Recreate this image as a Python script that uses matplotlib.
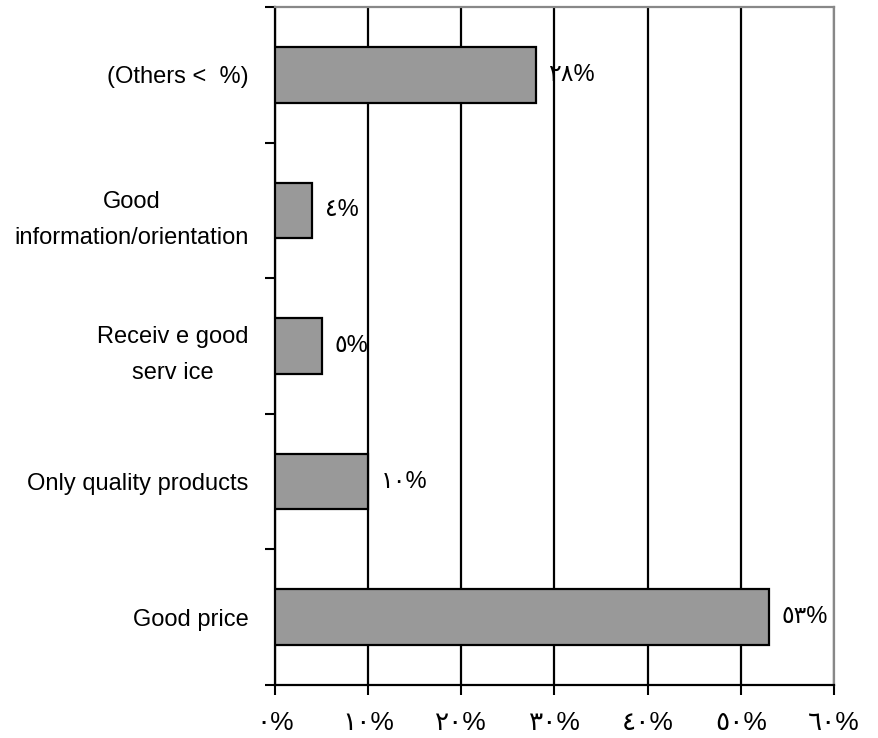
import matplotlib
matplotlib.use("Agg")
import matplotlib.pyplot as plt

categories = ["Good price", "Only quality products", "Receiv e good\nserv ice",
              "Good\ninformation/orientation", "(Others <  %)"]
values = [53, 10, 5, 4, 28]
value_labels = ["٥٣%", "١٠%", "٥%", "٤%", "٢٨%"]
xticks = [0, 10, 20, 30, 40, 50, 60]
xtick_labels = ["٠%", "١٠%", "٢٠%", "٣٠%", "٤٠%", "٥٠%", "٦٠%"]

fam = ["Liberation Sans", "DejaVu Sans"]
plt.rcParams['font.family'] = fam

fig = plt.figure(figsize=(8.79, 7.38), dpi=100)
ax = fig.add_axes([275/879, 1-685/738, (834-275)/879, (685-7)/738])

n = len(categories)
ypos = list(range(n))
ax.barh(ypos, values, height=0.41, color="#999999", edgecolor="black", linewidth=1.6, zorder=3)

ax.set_xlim(0, 60)
ax.set_ylim(-0.5, n - 0.5)
ax.set_xticks(xticks)
ax.set_xticklabels(xtick_labels, fontsize=19, family=fam)
ax.xaxis.grid(True, color="black", linewidth=1.6, zorder=0)
ax.set_yticks([i - 0.5 for i in range(n + 1)])
ax.set_yticklabels([])
ax.set_yticks(ypos, minor=True)
ax.set_yticklabels(categories, minor=True, fontsize=17, family=fam,
                   multialignment="center", linespacing=1.8)
ax.tick_params(axis="y", which="minor", length=0, pad=19)
ax.tick_params(axis="y", which="major", length=7, width=1.5, direction="out")
ax.tick_params(axis="x", length=7, width=1.5, direction="out", pad=12)

for s in ["left", "bottom"]:
    ax.spines[s].set_linewidth(1.6)
    ax.spines[s].set_color("black")
for s in ["top", "right"]:
    ax.spines[s].set_linewidth(1.6)
    ax.spines[s].set_color("#888888")

for y, v, lab in zip(ypos, values, value_labels):
    ax.annotate(lab, xy=(v, y), xytext=(9, 0), textcoords="offset points",
                ha="left", va="center", fontsize=17, family=fam, zorder=4)

fig.savefig("out.png", dpi=100)
